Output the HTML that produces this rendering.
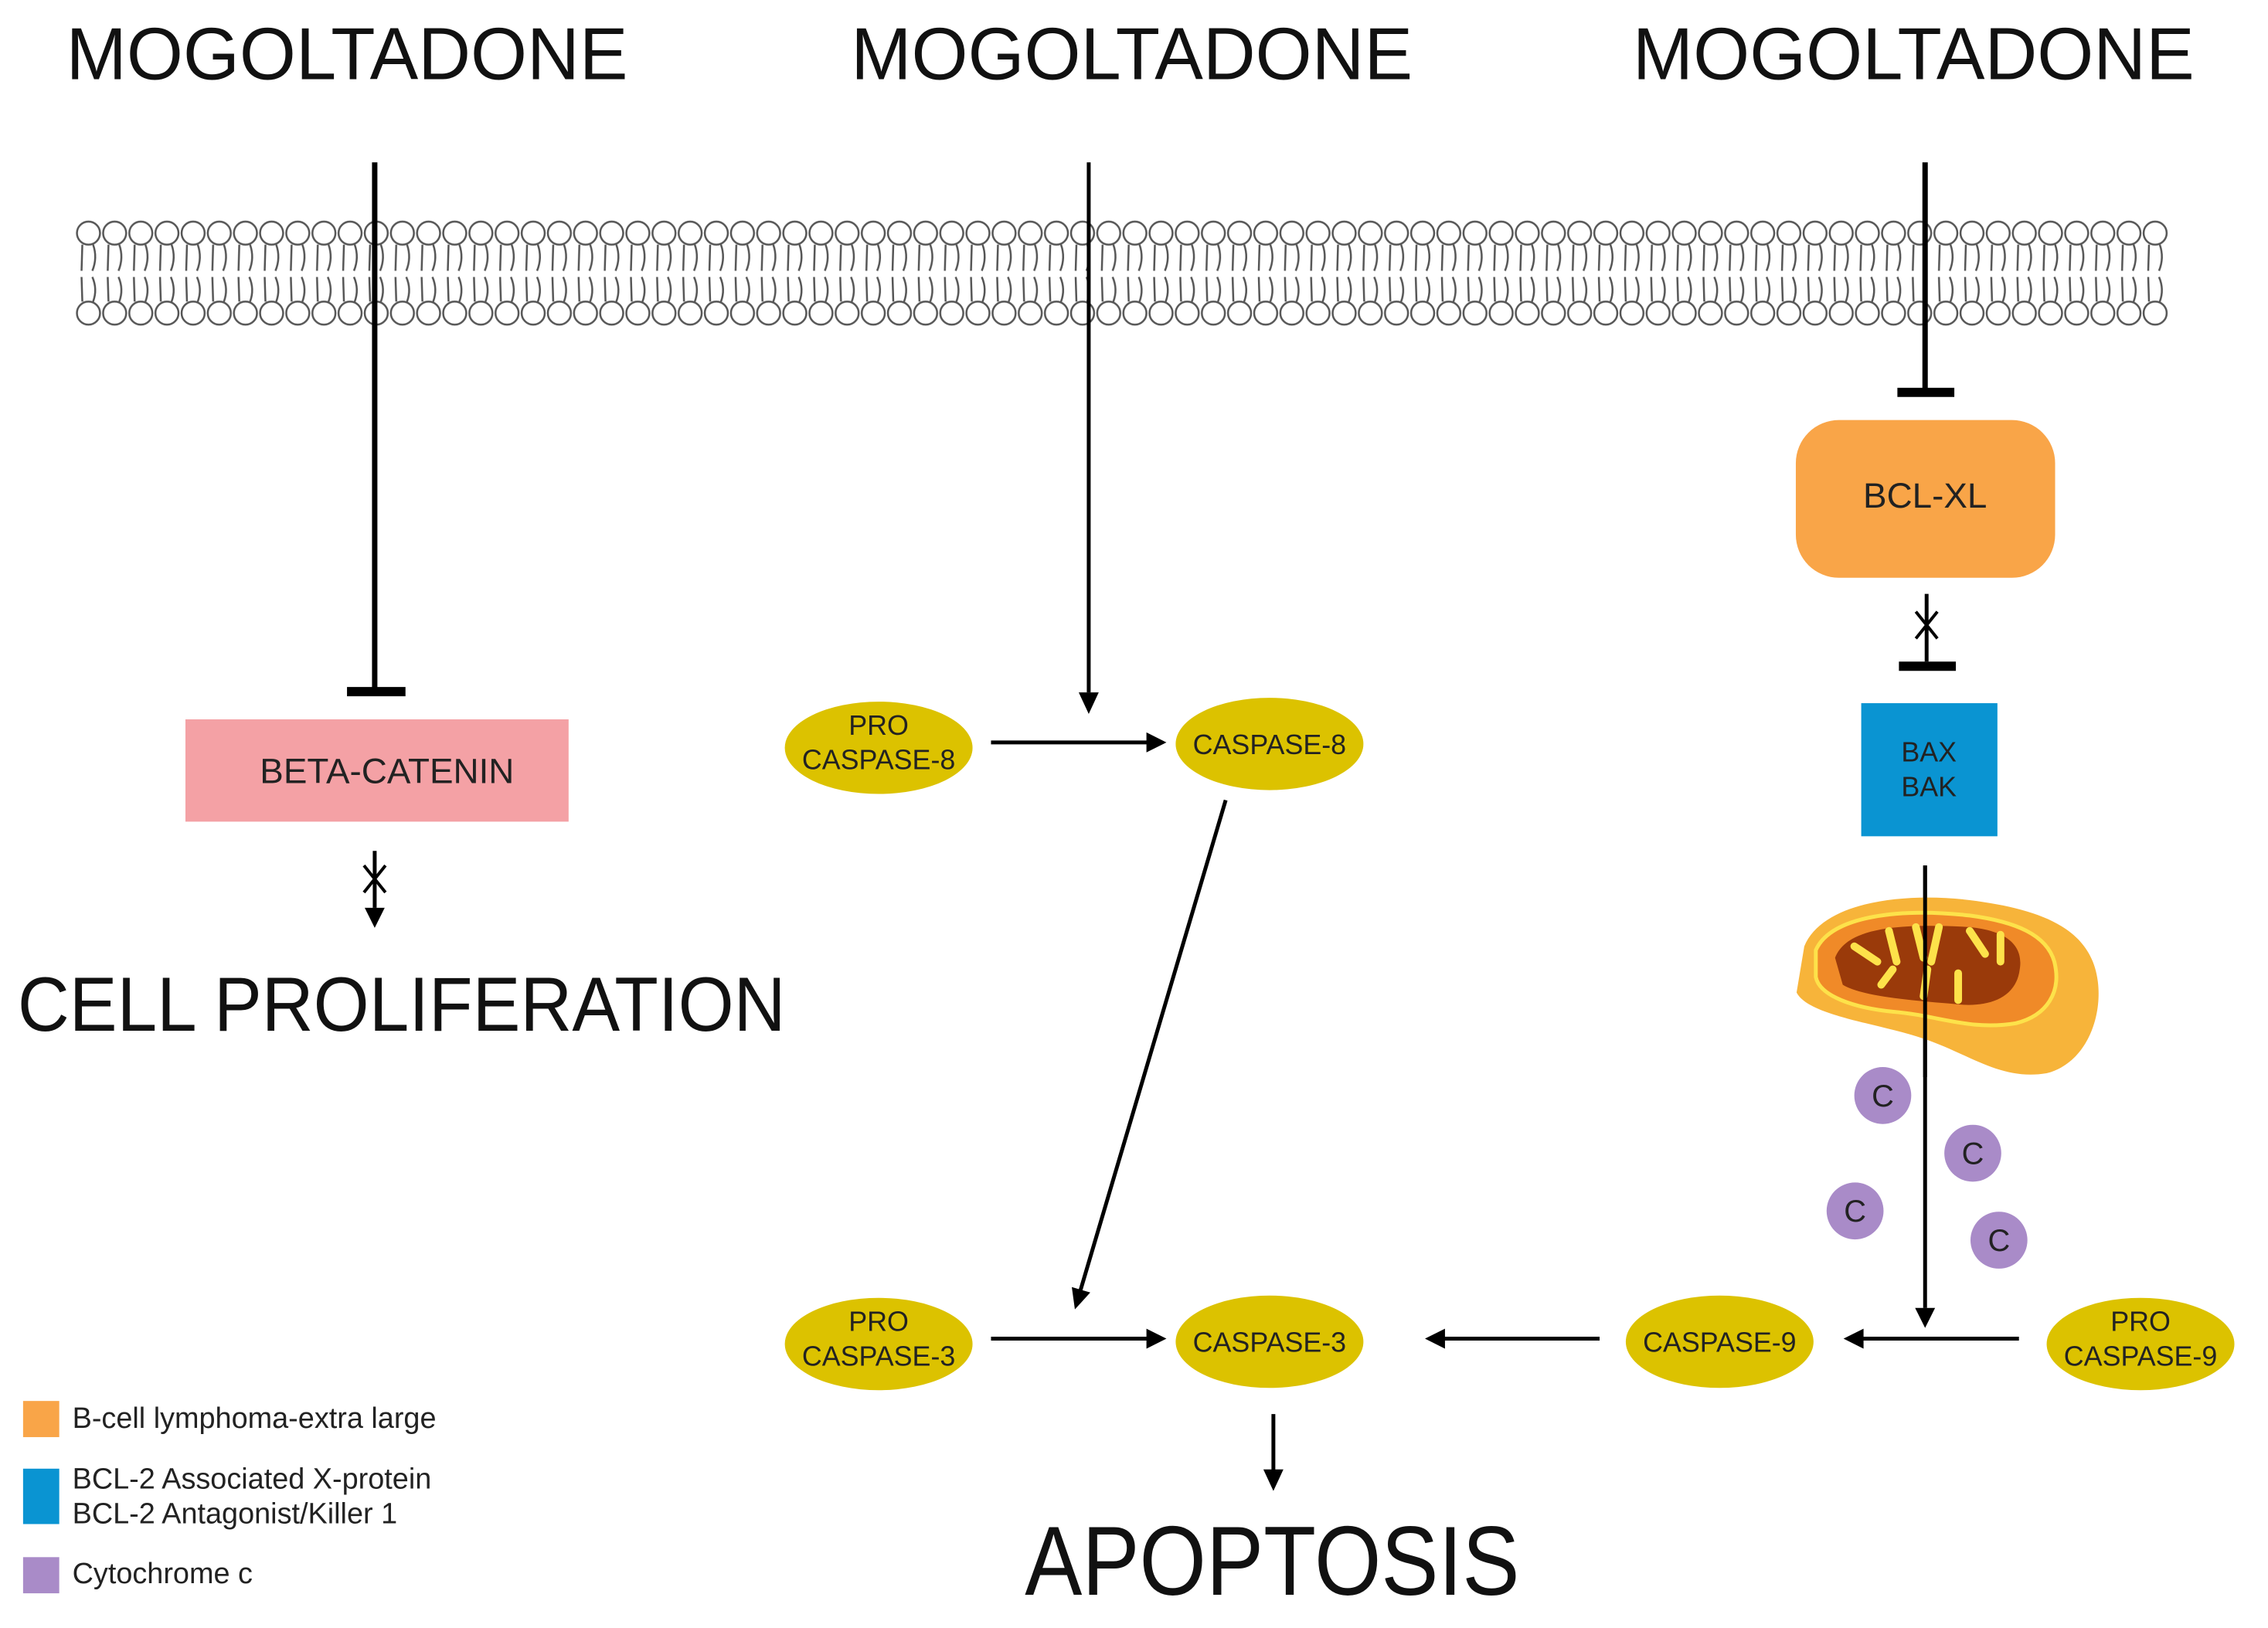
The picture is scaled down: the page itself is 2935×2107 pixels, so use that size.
<!DOCTYPE html>
<html><head><meta charset="utf-8"><style>html,body{margin:0;padding:0;background:#fff}svg{display:block}</style></head>
<body>
<svg width="2935" height="2107" viewBox="0 0 2935 2107" xmlns="http://www.w3.org/2000/svg" font-family="Liberation Sans, sans-serif">
<defs>
<pattern id="mem" x="98" y="280" width="34" height="150" patternUnits="userSpaceOnUse">
<g fill="none" stroke="#555" stroke-width="2.5">
<circle cx="17" cy="23" r="15"/>
<circle cx="17" cy="127" r="15"/>
<path d="M9 38 L8 72 M23 38 Q29 55 22 72 M8 80 L9 112 M22 80 Q29 96 23 112"/>
</g>
</pattern>
</defs>
<rect x="0" y="0" width="2935" height="2107" fill="#fff"/>
<g transform="scale(0.9957)">
<rect x="98" y="280" width="2720" height="150" fill="url(#mem)"/>

<g font-size="96" fill="#111">
<text x="86" y="103" textLength="730" lengthAdjust="spacingAndGlyphs">MOGOLTADONE</text>
<text x="1106" y="103" textLength="730" lengthAdjust="spacingAndGlyphs">MOGOLTADONE</text>
<text x="2122" y="103" textLength="730" lengthAdjust="spacingAndGlyphs">MOGOLTADONE</text>
</g>

<g stroke="#000" fill="none">
<line x1="487" y1="211" x2="487" y2="899" stroke-width="7"/>
<line x1="451" y1="899" x2="527" y2="899" stroke-width="12"/>
<line x1="1415" y1="211" x2="1415" y2="900" stroke-width="5"/>
<line x1="2502" y1="211" x2="2502" y2="508" stroke-width="7"/>
<line x1="2466" y1="510" x2="2540" y2="510" stroke-width="12"/>
<line x1="2504" y1="772" x2="2504" y2="860" stroke-width="5"/>
<line x1="2468" y1="866" x2="2542" y2="866" stroke-width="12"/>
<line x1="2490" y1="795" x2="2518" y2="830" stroke-width="4"/>
<line x1="2518" y1="795" x2="2490" y2="830" stroke-width="4"/>
<line x1="487" y1="1106" x2="487" y2="1180" stroke-width="5"/>
<line x1="473" y1="1125" x2="501" y2="1160" stroke-width="4"/>
<line x1="501" y1="1125" x2="473" y2="1160" stroke-width="4"/>
<line x1="2502" y1="1125" x2="2502" y2="1700" stroke-width="5"/>
</g>
<path d="M1402 900 L1428 900 L1415 928 z" fill="#000"/>
<path d="M474 1180 L500 1180 L487 1206 z" fill="#000"/>
<path d="M2489 1700 L2515 1700 L2502 1726 z" fill="#000"/>

<rect x="2334" y="546" width="337" height="205" rx="56" fill="#f9a548"/>
<text x="2502" y="660" font-size="46" text-anchor="middle" fill="#222">BCL-XL</text>
<rect x="2419" y="914" width="177" height="173" fill="#0a94d2"/>
<text x="2507" y="990" font-size="36" text-anchor="middle" fill="#222">BAX</text>
<text x="2507" y="1035" font-size="36" text-anchor="middle" fill="#222">BAK</text>
<rect x="241" y="935" width="498" height="133" fill="#f4a1a5"/>
<text x="503" y="1018" font-size="46" text-anchor="middle" fill="#222">BETA-CATENIN</text>

<text x="23" y="1340" font-size="100" fill="#111" textLength="998" lengthAdjust="spacingAndGlyphs">CELL PROLIFERATION</text>
<text x="1332" y="2073" font-size="128" fill="#111" textLength="643" lengthAdjust="spacingAndGlyphs">APOPTOSIS</text>

<g fill="#dcc200">
<ellipse cx="1142" cy="972" rx="122" ry="60"/>
<ellipse cx="1650" cy="967" rx="122" ry="60"/>
<ellipse cx="1142" cy="1747" rx="122" ry="60"/>
<ellipse cx="1650" cy="1744" rx="122" ry="60"/>
<ellipse cx="2235" cy="1744" rx="122" ry="60"/>
<ellipse cx="2782" cy="1747" rx="122" ry="60"/>
</g>
<g font-size="36" text-anchor="middle" fill="#222">
<text x="1142" y="955">PRO</text><text x="1142" y="1000">CASPASE-8</text>
<text x="1650" y="980">CASPASE-8</text>
<text x="1142" y="1730">PRO</text><text x="1142" y="1775">CASPASE-3</text>
<text x="1650" y="1757">CASPASE-3</text>
<text x="2235" y="1757">CASPASE-9</text>
<text x="2782" y="1730">PRO</text><text x="2782" y="1775">CASPASE-9</text>
</g>

<g stroke="#000" stroke-width="5">
<line x1="1288" y1="965" x2="1492" y2="965"/>
<line x1="1288" y1="1740" x2="1492" y2="1740"/>
<line x1="1593" y1="1040" x2="1404" y2="1678"/>
<line x1="2079" y1="1740" x2="1876" y2="1740"/>
<line x1="2624" y1="1740" x2="2420" y2="1740"/>
<line x1="1655" y1="1838" x2="1655" y2="1912"/>
</g>
<g fill="#000">
<path d="M1516 965 L1490 952 L1490 978 z"/>
<path d="M1516 1740 L1490 1727 L1490 1753 z"/>
<path d="M1852 1740 L1878 1727 L1878 1753 z"/>
<path d="M2396 1740 L2422 1727 L2422 1753 z"/>
<path d="M1655 1938 L1642 1910 L1668 1910 z"/>
<path d="M1397 1702 L1393 1673 L1417 1680 z"/>
</g>

<g>
<path d="M2345 1230 C2370 1170 2480 1160 2560 1170 C2640 1180 2700 1200 2720 1250 C2740 1300 2720 1380 2660 1395 C2600 1405 2560 1370 2500 1350 C2440 1330 2350 1320 2335 1290 Z" fill="#f7b43a"/>
<path d="M2360 1235 C2380 1190 2470 1180 2560 1190 C2620 1198 2660 1215 2670 1250 C2680 1290 2660 1320 2620 1330 C2560 1340 2520 1320 2460 1315 C2410 1310 2365 1295 2360 1270 Z" fill="#f08a28" stroke="#fde24a" stroke-width="5"/>
<path d="M2385 1245 C2400 1205 2470 1200 2560 1205 C2610 1210 2630 1230 2625 1260 C2620 1300 2580 1310 2540 1305 C2480 1300 2420 1295 2395 1280 Z" fill="#9a3a0a"/>
<g fill="none" stroke="#fde24a" stroke-width="10" stroke-linecap="round">
<path d="M2410 1230 L2440 1250 M2455 1210 L2465 1250 M2490 1205 L2500 1245 M2520 1205 L2510 1250 M2560 1210 L2580 1240 M2600 1215 L2600 1250 M2445 1280 L2460 1260 M2500 1295 L2505 1260 M2545 1300 L2545 1265"/>
</g>
</g>
<line x1="2502" y1="1125" x2="2502" y2="1400" stroke="#000" stroke-width="5"/>

<g fill="#a98bc8">
<circle cx="2447" cy="1424" r="37"/><circle cx="2564" cy="1499" r="37"/>
<circle cx="2411" cy="1574" r="37"/><circle cx="2598" cy="1612" r="37"/>
</g>
<g font-size="40" text-anchor="middle" fill="#222">
<text x="2447" y="1438">C</text><text x="2564" y="1513">C</text>
<text x="2411" y="1588">C</text><text x="2598" y="1626">C</text>
</g>

<rect x="30" y="1821" width="47" height="47" fill="#f9a548"/>
<rect x="30" y="1909" width="47" height="72" fill="#0a94d2"/>
<rect x="30" y="2024" width="47" height="47" fill="#a98bc8"/>
<g font-size="38" fill="#222">
<text x="94" y="1856">B-cell lymphoma-extra large</text>
<text x="94" y="1935">BCL-2 Associated X-protein</text>
<text x="94" y="1980">BCL-2 Antagonist/Killer 1</text>
<text x="94" y="2058">Cytochrome c</text>
</g>
</g>
</svg>
</body></html>
